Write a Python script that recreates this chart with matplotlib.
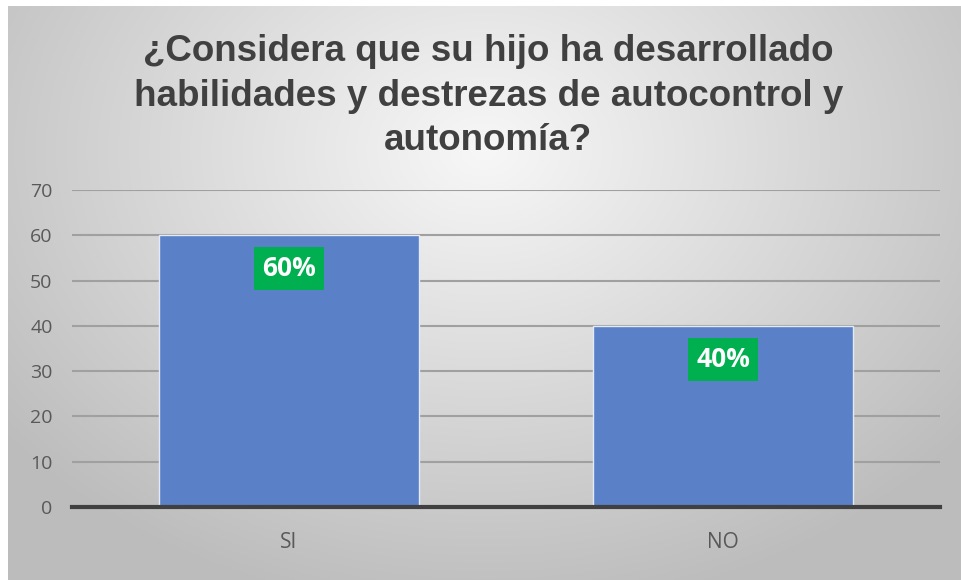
import numpy as np
import matplotlib.pyplot as plt

categorias = ["SI", "NO"]
valores = [60, 40]
etiquetas = ["60%", "40%"]
yticks = [0, 10, 20, 30, 40, 50, 60, 70]
titulo = "¿Considera que su hijo ha desarrollado\nhabilidades y destrezas de autocontrol y\nautonomía?"

fig = plt.figure(figsize=(9.61, 5.80), dpi=100)
fig.patch.set_facecolor("white")

# radial background gradient
bg = fig.add_axes([8 / 961, 0, 1 - 8 / 961, 1 - 6 / 580], zorder=0)
gx, gy = np.meshgrid(np.linspace(0, 1, 400), np.linspace(0, 1, 250))
r = np.sqrt(((gx - 0.5) / 0.75) ** 2 + ((gy - 0.25) / 0.95) ** 2)
shade = np.clip(0.97 - 0.27 * r, 0.74, 0.97)
bg.imshow(np.dstack([shade] * 3), aspect="auto", extent=[0, 1, 1, 0])
bg.axis("off")

ax = fig.add_axes([72 / 961, 1 - 507 / 580, 868 / 961, 317 / 580], zorder=1)
ax.patch.set_alpha(0)

x = np.arange(len(categorias))
ax.bar(x, valores, width=0.6, color="#5A80C8", edgecolor="#E3EAF6", linewidth=1, zorder=3)

for xi, v, lab in zip(x, valores, etiquetas):
    ax.annotate(lab, (xi, v), xytext=(0, -24), textcoords="offset points",
                ha="center", va="center", fontsize=19, fontweight="bold",
                family="Open Sans", color="white", zorder=5,
                bbox=dict(boxstyle="square,pad=0.3", fc="#00B050", ec="none"))

ax.set_xlim(-0.5, 1.5)
ax.set_ylim(0, 70)
ax.set_yticks(yticks)
ax.set_xticks(x)
ax.set_xticklabels(categorias)
ax.grid(axis="y", color="#A0A0A0", linewidth=1.5, zorder=1)
ax.set_axisbelow(True)
for s in ["top", "right", "left"]:
    ax.spines[s].set_visible(False)
ax.spines["bottom"].set_color("#404040")
ax.spines["bottom"].set_linewidth(3)
ax.spines["bottom"].set_zorder(4)
ax.tick_params(length=0)
ax.tick_params(axis="y", pad=14, labelsize=14, labelcolor="#595959")
ax.tick_params(axis="x", pad=18, labelsize=15, labelcolor="#595959")
for t in ax.get_xticklabels() + ax.get_yticklabels():
    t.set_family("Open Sans")

fig.text(0.508, 1 - 96 / 580, titulo, ha="center", va="center", fontsize=26.5,
         fontweight="bold", family="Liberation Sans", color="#404040",
         linespacing=1.36, zorder=6)

fig.savefig("out.png", dpi=100)
